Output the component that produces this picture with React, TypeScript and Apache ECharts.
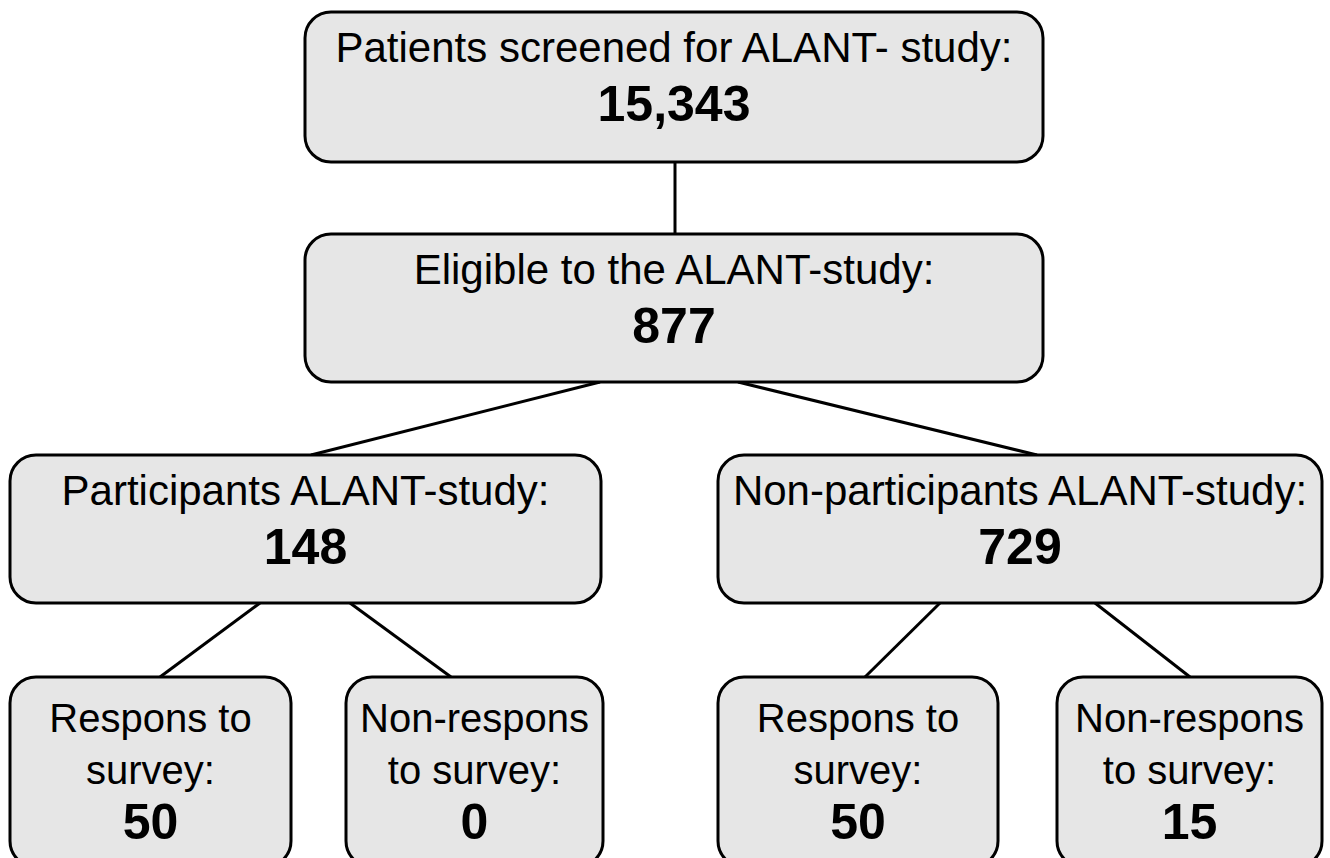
import React, { useEffect, useRef } from "react";
import * as echarts from "echarts";

// ---- data ----
const nodeTitles: string[][] = [
  ["Patients screened for ALANT- study:"],
  ["Eligible to the ALANT-study:"],
  ["Participants ALANT-study:"],
  ["Non-participants ALANT-study:"],
  ["Respons to", "survey:"],
  ["Non-respons", "to survey:"],
  ["Respons to", "survey:"],
  ["Non-respons", "to survey:"],
];
const nodeValues: string[] = ["15,343", "877", "148", "729", "50", "0", "50", "15"];
const edges: [number, number][] = [
  [0, 1],
  [1, 2],
  [1, 3],
  [2, 4],
  [2, 5],
  [3, 6],
  [3, 7],
];

// ---- layout (positions in pixels) ----
const boxes = [
  { x: 305, y: 12, w: 738, h: 150 },
  { x: 305, y: 234, w: 738, h: 148 },
  { x: 10, y: 455, w: 591, h: 148 },
  { x: 718, y: 455, w: 604, h: 148 },
  { x: 10, y: 677, w: 281, h: 190 },
  { x: 346, y: 677, w: 257, h: 190 },
  { x: 718, y: 677, w: 280, h: 190 },
  { x: 1057, y: 677, w: 265, h: 190 },
];
const edgePoints: number[][] = [
  [675, 162, 675, 234],
  [600, 382, 311, 455],
  [738, 382, 1037, 455],
  [260, 603, 160, 677],
  [350, 603, 451, 677],
  [940, 603, 865, 677],
  [1095, 603, 1190, 677],
];

const FONT = "'Liberation Sans', Arial, Helvetica, sans-serif";

export default function App() {
  const ref = useRef<HTMLDivElement>(null);
  useEffect(() => {
    document.body.style.margin = "0";
    const chart = echarts.init(ref.current!, null, { renderer: "svg" });
    const elements: any[] = [];
    edges.forEach((e, i) => {
      const p = edgePoints[i];
      elements.push({
        type: "line",
        shape: { x1: p[0], y1: p[1], x2: p[2], y2: p[3] },
        style: { stroke: "#000", lineWidth: 3 },
        z: 1,
      });
    });
    nodeTitles.forEach((lines, i) => {
      const b = boxes[i];
      elements.push({
        type: "rect",
        shape: { x: b.x, y: b.y, width: b.w, height: b.h, r: 26 },
        style: { fill: "#e6e6e6", stroke: "#000", lineWidth: 3 },
        z: 2,
      });
      const cx = b.x + b.w / 2;
      const small = i >= 4;
      const lineGap = 52;
      const firstY = small ? b.y + 41 : b.y + 35;
      const fs = small ? 40 : 42;
      lines.forEach((t, k) => {
        elements.push({
          type: "text",
          x: cx,
          y: firstY + k * lineGap,
          style: {
            text: t,
            fill: "#000",
            font: `${fs}px ${FONT}`,
            textAlign: "center",
            textVerticalAlign: "middle",
          },
          z: 3,
        });
      });
      const numY = small ? firstY + lines.length * lineGap : b.y + 92;
      elements.push({
        type: "text",
        x: cx,
        y: numY,
        style: {
          text: nodeValues[i],
          fill: "#000",
          font: `bold 50px ${FONT}`,
          textAlign: "center",
          textVerticalAlign: "middle",
        },
        z: 3,
      });
    });
    chart.setOption({
      animation: false,
      backgroundColor: "#fff",
      graphic: { elements },
    });
    return () => chart.dispose();
  }, []);
  return <div ref={ref} style={{ width: 1330, height: 858 }} />;
}
